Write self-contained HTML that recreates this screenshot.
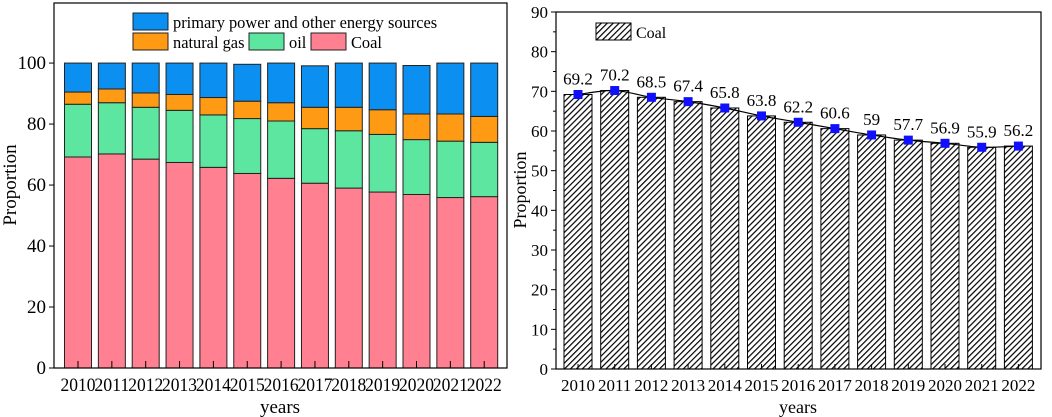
<!DOCTYPE html>
<html><head><meta charset="utf-8"><style>
body{margin:0;background:#fff;}
svg{display:block;font-family:"Liberation Serif",serif;}
</style></head><body>
<svg id="c" width="1052" height="417">
<defs>
<pattern id="hatch" patternUnits="userSpaceOnUse" width="4.2" height="4.2" patternTransform="rotate(45)">
<rect width="4.2" height="4.2" fill="#fff"/><line x1="0" y1="0" x2="0" y2="4.2" stroke="#000" stroke-width="2.4"/>
</pattern>
</defs>
</svg>
<script>
const years=["2010","2011","2012","2013","2014","2015","2016","2017","2018","2019","2020","2021","2022"];
const coal=[69.2,70.2,68.5,67.4,65.8,63.8,62.2,60.6,59,57.7,56.9,55.9,56.2];
const oil=[17.3,16.8,17.0,17.1,17.2,18.0,18.8,17.9,18.8,18.9,18.0,18.5,17.8];
const gas=[4.0,4.5,4.7,5.2,5.7,5.7,6.0,7.0,7.7,8.1,8.4,8.9,8.5];
const primary=[9.5,8.5,9.8,10.3,11.3,12.1,13.0,13.6,14.5,15.3,15.9,16.7,17.5];
const leftTicks=[0,20,40,60,80,100];
const rightTicks=[0,10,20,30,40,50,60,70,80,90];
const NS="http://www.w3.org/2000/svg";
const svg=document.getElementById('c');
function el(t,a,p){const e=document.createElementNS(NS,t);for(const k in a)e.setAttribute(k,a[k]);(p||svg).appendChild(e);return e;}
function txt(x,y,s,a,p){const e=el('text',Object.assign({x:x,y:y,'font-size':16,fill:'#000'},a||{}),p);e.textContent=s;return e;}

// LEFT chart
const L={x0:54,x1:507,y0:368,y1:3,max:119.7};
const ly=v=>L.y0-(v/L.max)*(L.y0-L.y1);
const lx=i=>78+i*33.85;
const bw=27;
const colors={coal:'#ff8090',oil:'#5ce6a0',gas:'#ff9a14',primary:'#0b8ff0'};
years.forEach((y,i)=>{
  let base=0;
  [['coal',coal],['oil',oil],['gas',gas],['primary',primary]].forEach(([n,arr])=>{
    const v=arr[i];
    const r=el('rect',{x:lx(i)-bw/2,y:ly(base+v),width:bw,height:ly(base)-ly(base+v),fill:colors[n],stroke:'#222','stroke-width':1});
    
    
    base+=v;
  });
  el('line',{x1:lx(i),x2:lx(i),y1:L.y0,y2:L.y0-7,stroke:'#000'});
  const t=txt(lx(i),391,y,{'text-anchor':'middle','font-size':19,textLength:35,lengthAdjust:'spacingAndGlyphs'});
  
  
});
el('rect',{x:L.x0,y:L.y1,width:L.x1-L.x0,height:L.y0-L.y1,fill:'none',stroke:'#000','stroke-width':1.2,});
leftTicks.forEach(v=>{
  el('line',{x1:L.x0-5,x2:L.x0,y1:ly(v),y2:ly(v),stroke:'#000'});
  const t=txt(L.x0-8,ly(v)+6,String(v),{'text-anchor':'end','font-size':19});
  
  
});
txt(16,185,'Proportion',{'text-anchor':'middle','font-size':19,transform:'rotate(-90 16 185)',});
txt(280,413,'years',{'text-anchor':'middle','font-size':19,});
// legend
const lg=el('g',{});
el('rect',{x:133,y:13,width:35,height:17,fill:colors.primary,stroke:'#222'},lg);
txt(173,28,'primary power and other energy sources',{'font-size':16.4},lg);
el('rect',{x:133,y:33,width:35,height:17,fill:colors.gas,stroke:'#222'},lg);
txt(173,48,'natural gas',{'font-size':16.4},lg);
el('rect',{x:249,y:33,width:35,height:17,fill:colors.oil,stroke:'#222'},lg);
txt(289,48,'oil',{'font-size':16.4},lg);
el('rect',{x:311,y:33,width:35,height:17,fill:colors.coal,stroke:'#222'},lg);
txt(351,48,'Coal',{'font-size':16.4},lg);

// RIGHT chart
const R={x0:556,x1:1041,y0:369,y1:12,max:90};
const ry=v=>R.y0-(v/R.max)*(R.y0-R.y1);
const rx=i=>578+i*36.7;
const rbw=28;
years.forEach((y,i)=>{
  const r=el('rect',{x:rx(i)-rbw/2,y:ry(coal[i]),width:rbw,height:ry(0)-ry(coal[i]),fill:'url(#hatch)',stroke:'#000','stroke-width':1});
  
  
  el('line',{x1:rx(i),x2:rx(i),y1:R.y0,y2:R.y0-5,stroke:'#000'});
  const t=txt(rx(i),391,y,{'text-anchor':'middle','font-size':17});
  
  
});
const pts=coal.map((v,i)=>[rx(i),ry(v)]);
let d='M'+pts[0][0]+','+pts[0][1];
for(let i=0;i<pts.length-1;i++){
  const p0=pts[Math.max(0,i-1)],p1=pts[i],p2=pts[i+1],p3=pts[Math.min(pts.length-1,i+2)];
  d+=' C'+(p1[0]+(p2[0]-p0[0])/6)+','+(p1[1]+(p2[1]-p0[1])/6)+' '+(p2[0]-(p3[0]-p1[0])/6)+','+(p2[1]-(p3[1]-p1[1])/6)+' '+p2[0]+','+p2[1];
}
el('path',{d:d,fill:'none',stroke:'#000','stroke-width':1.2,});
coal.forEach((v,i)=>{
  const m=el('rect',{x:rx(i)-4.5,y:ry(v)-4.5,width:9,height:9,fill:'#1010ff'});
  
  
  const t=txt(rx(i),ry(v)-10,String(v),{'text-anchor':'middle','font-size':17});
  
  
});
el('rect',{x:R.x0,y:R.y1,width:R.x1-R.x0,height:R.y0-R.y1,fill:'none',stroke:'#000','stroke-width':1.2,});
rightTicks.forEach(v=>{
  el('line',{x1:R.x0-5,x2:R.x0,y1:ry(v),y2:ry(v),stroke:'#000'});
  if(v<90) el('line',{x1:R.x0-3,x2:R.x0,y1:ry(v+5),y2:ry(v+5),stroke:'#000'});
  const t=txt(R.x0-8,ry(v)+6,String(v),{'text-anchor':'end','font-size':17});
  
  
});
txt(526,190,'Proportion',{'text-anchor':'middle','font-size':18,transform:'rotate(-90 526 190)',});
txt(798,413,'years',{'text-anchor':'middle','font-size':18,});
const rl=el('g',{});
el('rect',{x:596,y:23,width:35,height:17,fill:'url(#hatch)',stroke:'#000'},rl);
txt(636,38,'Coal',{'font-size':16},rl);
</script>
</body></html>
